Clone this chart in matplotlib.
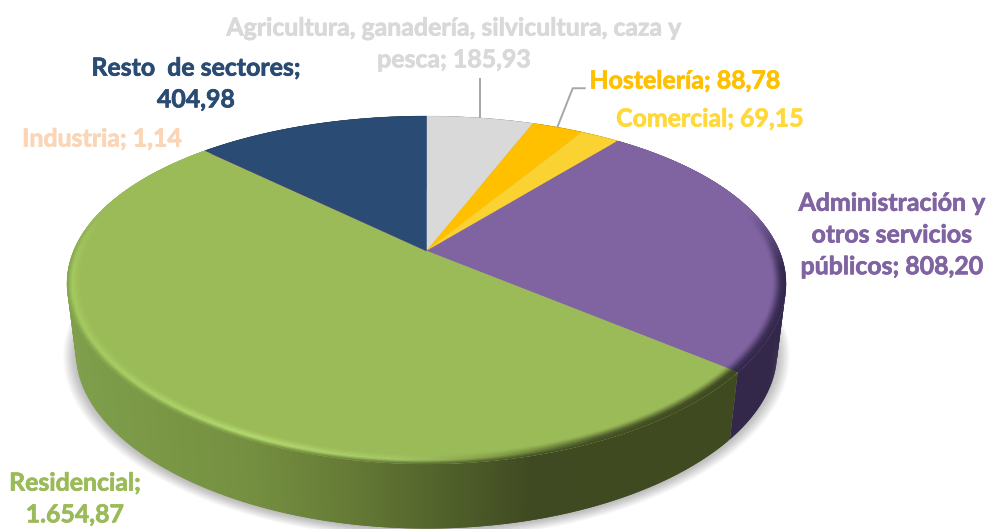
import numpy as np
import matplotlib
matplotlib.use("Agg")
import matplotlib.pyplot as plt
import matplotlib.patheffects as pe
from matplotlib.collections import PolyCollection
from matplotlib.colors import to_rgb
from matplotlib.patches import Polygon

# ---- data ----
sectors = ["Agricultura, ganadería, silvicultura, caza y\npesca; 185,93",
           "Hostelería; 88,78", "Comercial; 69,15",
           "Administración y\notros servicios\npúblicos; 808,20",
           "Residencial;\n1.654,87", "Industria; 1,14",
           "Resto  de sectores;\n404,98"]
values = [185.93, 88.78, 69.15, 808.20, 1654.87, 1.14, 404.98]

# ---- styles / layout ----
face_colors = ["#D9D9D9", "#FFC000", "#FAD232", "#8064A2", "#9BBB59", "#E0A070", "#2A4B73"]
text_colors = ["#D9D9D9", "#FFC000", "#FFD93B", "#8064A2", "#9BBB59", "#FBD5B5", "#2A4B73"]
label_pos = [(454, 44), (685, 81), (710, 119), (892, 235), (75, 499), (102, 139), (196, 84)]
CX, CY, R, A, CXP, CYP = 426.5, 251.0, 353.0, 165.2, 0.19, 0.2240
DEPTH, SHRINK = 70.0, 0.975
plt.rcParams["font.family"] = ["Lato", "DejaVu Sans"]

fig = plt.figure(figsize=(9.88, 5.29), dpi=100)
ax = fig.add_axes([0, 0, 1, 1])
ax.set_xlim(0, 988)
ax.set_ylim(529, 0)
ax.axis("off")


def proj(theta, r=1.0, level=0.0):
    """Clockwise angle from the top -> perspective-projected pixel position."""
    u, v = r * np.sin(theta), r * np.cos(theta)
    x, y = R * u / (1 + CXP * v), -A * v / (1 + CYP * v)
    s = 1 + (SHRINK - 1) * level
    return CX + x * s, CY + y * s + DEPTH * level


def rgb(c):
    return np.array(to_rgb(c))


def ramp(x, xs, cols):
    arr = np.array([rgb(c) for c in cols])
    return np.array([np.interp(x, xs, arr[:, i]) for i in range(3)])


edges = np.concatenate([[0], np.cumsum(values)]) / np.sum(values) * 2 * np.pi


def side_color(i, x):
    if i == 4:
        return ramp(x, [70, 250, 350, 450, 530, 740],
                    ["#7F9F4B", "#748F40", "#657A36", "#4F5F2A", "#404A22", "#3F4A20"])
    if i == 3:
        return rgb("#33274A")
    return rgb(face_colors[i]) * 0.4


def rim_color(i, x):
    if i == 4:
        return ramp(x, [70, 250, 400, 500, 600, 740],
                    ["#A4CB60", "#B6DC70", "#A5C765", "#7F9A45", "#4E5C2C", "#404A22"])
    if i == 3:
        return rgb("#3C2E56")
    return rgb(face_colors[i])


# soft shadow
full = np.linspace(0, 2 * np.pi, 361)
for k in np.linspace(1.035, 1.0, 12):
    x, y = proj(full, k, 1.0)
    ax.add_patch(Polygon(np.c_[x, y + 1], closed=True, fc="#000000", ec="none", alpha=0.022, zorder=1))

# side wall (strips overlap one step so no seams appear)
polys, cols = [], []
for i in range(len(values)):
    n = max(2, int(np.degrees(edges[i + 1] - edges[i]) / 0.5))
    th = np.linspace(edges[i], edges[i + 1], n + 1)
    step = th[1] - th[0]
    for a, b in zip(th[:-1], th[1:]):
        e = min(b + step, edges[i + 1])
        x0, y0 = proj(a)
        x1, y1 = proj(e)
        x2, y2 = proj(e, 1, 1)
        x3, y3 = proj(a, 1, 1)
        polys.append([(x0, y0), (x1, y1), (x2, y2), (x3, y3)])
        cols.append(side_color(i, (x0 + x1) / 2))
ax.add_collection(PolyCollection(polys, facecolors=cols, edgecolors="none", zorder=2))

# top face
for i, fc in enumerate(face_colors):
    th = np.linspace(edges[i], edges[i + 1], max(2, int(np.degrees(edges[i + 1] - edges[i]))) + 1)
    x, y = proj(th)
    ax.add_patch(Polygon(np.c_[np.r_[CX, x], np.r_[CY, y]], closed=True, fc=fc, ec=fc, lw=0.3, zorder=3))

# bevel: each band and strip overlaps the next
polys, cols = [], []
radii = np.linspace(0.965, 1.0, 9)
for i in (3, 4):
    n = max(2, int(np.degrees(edges[i + 1] - edges[i]) / 0.5))
    th = np.linspace(edges[i], edges[i + 1], n + 1)
    step = th[1] - th[0]
    face = rgb(face_colors[i])
    for a, b in zip(th[:-1], th[1:]):
        e = min(b + step, edges[i + 1])
        m = (a + b) / 2
        f = np.clip((0.25 - np.cos(m)) / 0.35, 0, 1)
        xm, _ = proj(m)
        rim, sd = rim_color(i, xm), side_color(i, xm)
        for r0, r1 in zip(radii[:-1], radii[1:]):
            t = (r0 + r1 - 2 * radii[0]) / 2 / (radii[-1] - radii[0])
            c = face + (rim - face) * t / 0.6 if t < 0.6 else rim + (sd - rim) * (t - 0.6) / 0.4
            c = face + (c - face) * f
            p = [proj(a, r0), proj(e, r0), proj(e, min(r1 + 0.003, 1.0)), proj(a, min(r1 + 0.003, 1.0))]
            polys.append([(float(q[0]), float(q[1])) for q in p])
            cols.append(c)
ax.add_collection(PolyCollection(polys, facecolors=cols, edgecolors="none", zorder=4))

# leader lines
mid = (edges[:-1] + edges[1:]) / 2
xa, ya = proj(mid[0])
ax.plot([xa, xa], [ya - 1, ya - 39], color="#A6A6A6", lw=1.4, zorder=5)
xh, yh = proj(mid[1])
ax.plot([xh, xh + 15, xh + 27], [yh - 1, yh - 39, yh - 39], color="#A6A6A6", lw=1.4, zorder=5)

# labels
for name, col, (lx, ly) in zip(sectors, text_colors, label_pos):
    ax.text(lx, ly, name, color=col, ha="center", va="center", fontsize=17.9,
            fontweight="bold", linespacing=1.46, zorder=6,
            path_effects=[pe.withStroke(linewidth=0.5, foreground=col)])

fig.savefig("out.png", dpi=100)
